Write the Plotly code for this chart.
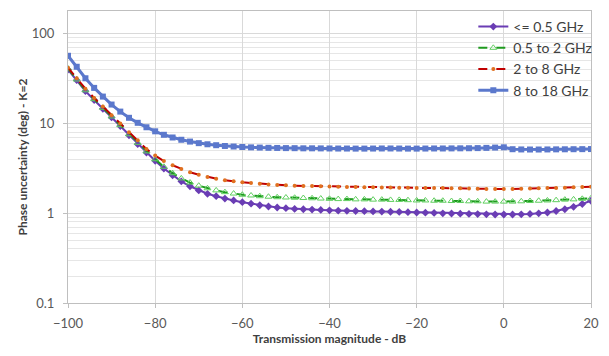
import plotly.graph_objects as go

x_db = list(range(-100, 21, 2))

s_low = [40, 30.5, 23, 18.3, 14.6, 11.7, 9.4, 7.4, 5.9, 4.75, 3.85, 3.15, 2.65, 2.27, 2.0, 1.8, 1.65, 1.55, 1.46, 1.39, 1.33,
         1.28, 1.23, 1.19, 1.16, 1.14,
         1.12, 1.11, 1.1, 1.09, 1.08,
         1.07, 1.065, 1.06, 1.055, 1.05,
         1.045, 1.04, 1.035, 1.03, 1.02,
         1.015, 1.01, 1.0, 0.995, 0.99,
         0.985, 0.98, 0.975, 0.97, 0.97,
         0.97, 0.975, 0.985, 1.0, 1.02,
         1.06, 1.11, 1.18, 1.27, 1.38]

s_05_2 = [41, 31, 23.5, 18.7, 15, 12, 9.6, 7.6, 6.1, 4.9, 4.0, 3.3, 2.8, 2.45, 2.2, 2.03, 1.9, 1.8, 1.72, 1.66, 1.61,
          1.58, 1.55, 1.53, 1.51, 1.5,
          1.49, 1.48, 1.47, 1.46, 1.45,
          1.44, 1.44, 1.43, 1.43, 1.42,
          1.42, 1.41, 1.41, 1.4, 1.39,
          1.39, 1.38, 1.38, 1.37, 1.37,
          1.36, 1.36, 1.35, 1.35, 1.35,
          1.35, 1.36, 1.37, 1.38, 1.39,
          1.4, 1.42, 1.43, 1.45, 1.47]

s_2_8 = [42, 32, 24.5, 19.3, 15.5, 12.4, 10.0, 8.0, 6.5, 5.2, 4.4, 3.82, 3.43, 3.11, 2.87, 2.69, 2.54, 2.43, 2.34, 2.27, 2.22,
         2.18, 2.14, 2.1, 2.07, 2.05,
         2.03, 2.02, 2.01, 2.0, 1.99,
         1.98, 1.97, 1.96, 1.95, 1.95,
         1.94, 1.94, 1.93, 1.93, 1.92,
         1.92, 1.91, 1.91, 1.9, 1.9,
         1.89, 1.88, 1.87, 1.86, 1.86,
         1.87, 1.88, 1.89, 1.9, 1.91,
         1.92, 1.93, 1.95, 1.96, 1.98]

s_8_18 = [57, 43, 32, 25, 20, 16.3, 13.6, 11.6, 10.2, 9.1, 8.2, 7.5, 7.0, 6.6, 6.3, 6.05, 5.88, 5.74, 5.63, 5.55, 5.48,
          5.43, 5.4, 5.37, 5.35, 5.33,
          5.32, 5.3, 5.3, 5.29, 5.28,
          5.27, 5.27, 5.26, 5.26, 5.27,
          5.28, 5.28, 5.27, 5.26, 5.26,
          5.27, 5.28, 5.28, 5.29, 5.3,
          5.31, 5.33, 5.36, 5.4, 5.44,
          5.18, 5.15, 5.14, 5.14, 5.15,
          5.16, 5.17, 5.18, 5.19, 5.2]

names = ["<= 0.5 GHz", "0.5 to 2 GHz", "2 to 8 GHz", "8 to 18 GHz"]
y_ticks = [0.1, 1, 10, 100]
y_tick_text = ["0.1", "1", "10", "100"]
x_ticks = [-100, -80, -60, -40, -20, 0, 20]

fig = go.Figure()
fig.add_trace(go.Scatter(x=x_db, y=s_low, name=names[0], mode="lines+markers",
                         line=dict(color="#6a3db4", width=2),
                         marker=dict(symbol="diamond", size=6, color="#6a3db4")))
fig.add_trace(go.Scatter(x=x_db, y=s_05_2, name=names[1], mode="lines+markers",
                         line=dict(color="#1e9a1e", width=2, dash="dash"),
                         marker=dict(symbol="triangle-up-open", size=6, color="#5fcf5f",
                                     line=dict(width=1, color="#5fcf5f"))))
fig.add_trace(go.Scatter(x=x_db, y=s_2_8, name=names[2], mode="lines+markers",
                         line=dict(color="#c00000", width=2, dash="dash"),
                         marker=dict(symbol="circle", size=4, color="#e07020")))
fig.add_trace(go.Scatter(x=x_db, y=s_8_18, name=names[3], mode="lines+markers",
                         line=dict(color="#5b78cc", width=3),
                         marker=dict(symbol="square", size=6, color="#5b78cc")))

grid = "#d9d9d9"
fig.update_layout(
    width=609, height=356,
    margin=dict(l=68, r=13, t=10, b=53),
    paper_bgcolor="white", plot_bgcolor="white",
    font=dict(family="Lato, Open Sans, sans-serif", size=13, color="#595959"),
    showlegend=True,
    legend=dict(x=0.775, y=1.0, xanchor="left", yanchor="top",
                bgcolor="rgba(0,0,0,0)", font=dict(size=14, color="#404040"),
                itemwidth=30, tracegroupgap=0),
)
fig.update_xaxes(range=[-100, 20], tickvals=x_ticks, showgrid=True, gridcolor=grid, gridwidth=1,
                 zeroline=False, showline=True, linecolor="#bfbfbf", mirror=True,
                 ticks="outside", ticklen=4, tickcolor="#bfbfbf",
                 ticklabelstandoff=4, ticklabeloverflow="allow",
                 title=dict(text="<b>Transmission magnitude - dB</b>", font=dict(size=12, color="#404040"),
                            standoff=4))
fig.update_yaxes(type="log", range=[-1, 2.255], tickvals=y_ticks, ticktext=y_tick_text,
                 showgrid=True, gridcolor=grid, gridwidth=1,
                 minor=dict(dtick="D1", showgrid=True, gridcolor="#e6e6e6", gridwidth=1),
                 zeroline=False, showline=True, linecolor="#bfbfbf", mirror=True,
                 ticks="outside", ticklen=4, tickcolor="#bfbfbf",
                 ticklabelstandoff=6,
                 title=dict(text="<b>Phase uncertainty (deg) - K=2</b>", font=dict(size=12, color="#404040"),
                            standoff=1))

fig.write_html("out.html", config={"displayModeBar": False},
               post_script="document.body.style.margin='0';")
